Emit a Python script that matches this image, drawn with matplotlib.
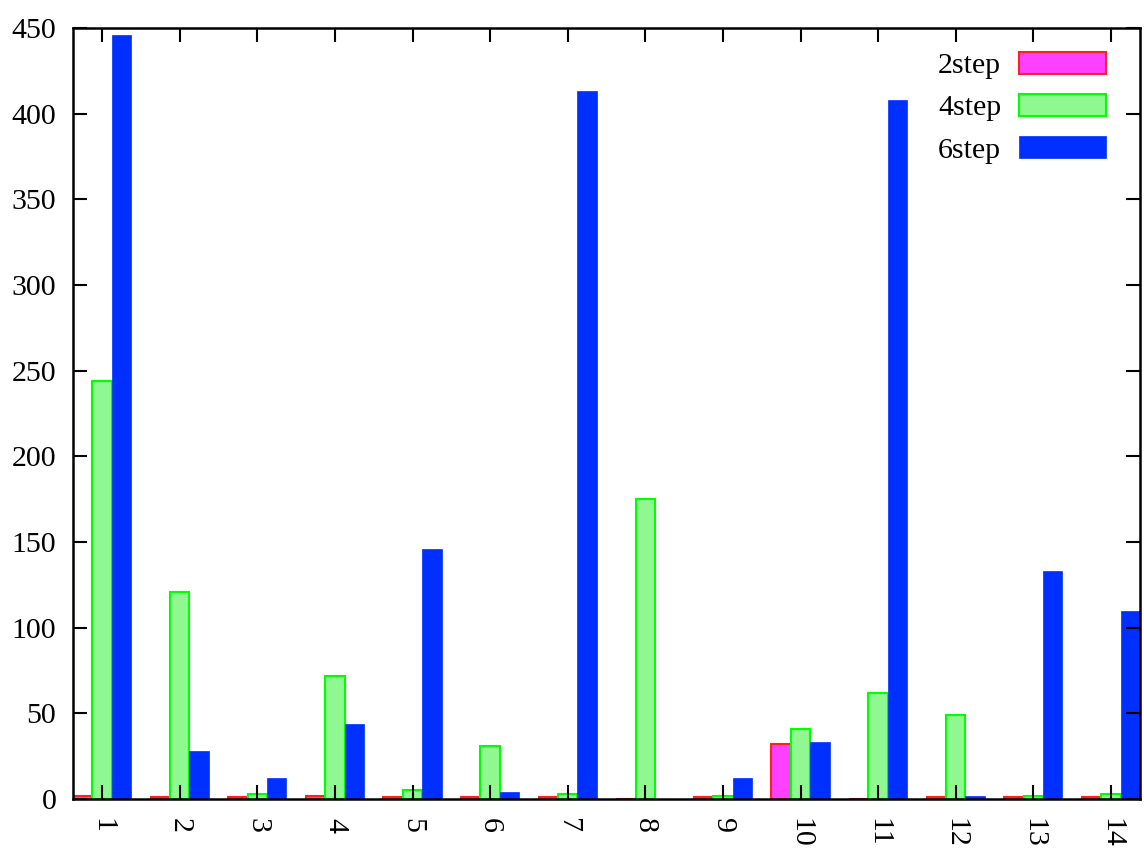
import numpy as np
import matplotlib.pyplot as plt

plt.rcParams["font.family"] = ["Liberation Serif", "DejaVu Serif"]

categories = [str(i) for i in range(1, 15)]
step2 = [2, 1, 1, 2, 1, 1, 1, 0, 1, 32, 0, 1, 1, 1]
step4 = [244, 121, 3, 72, 5, 31, 3, 175, 2, 41, 62, 49, 2, 3]
step6 = [446, 28, 12, 44, 146, 4, 413, 0, 12, 33, 408, 2, 133, 110]

x = np.arange(1, len(categories) + 1)
w = 0.25

fig = plt.figure(figsize=(11.44, 8.5), dpi=100)
ax = fig.add_axes([73 / 1144, 1 - 799 / 850, (1140 - 73) / 1144, (799 - 28) / 850])

ax.bar(x - w, step2, w, color="#ff40ff", edgecolor="#ff2020", linewidth=1.5, label="2step")
ax.bar(x, step4, w, color="#90f890", edgecolor="#00ff00", linewidth=1.5, label="4step")
ax.bar(x + w, step6, w, color="#0030ff", edgecolor="#0030ff", linewidth=0.5, label="6step")

ax.set_xlim(0.625, 14.375)
ax.set_ylim(0, 450)
ax.set_xticks(x)
ax.set_xticklabels(categories, rotation=-90, fontsize=21.5)
ax.set_yticks(np.arange(0, 451, 50))
ax.tick_params(axis="y", labelsize=21.5, pad=12)
ax.tick_params(axis="x", pad=14)
ax.tick_params(direction="in", length=10, width=1.5, top=True, right=True)
for s in ax.spines.values():
    s.set_linewidth(1.8)

ax.legend(loc="upper right", frameon=False, markerfirst=False, fontsize=21.5,
          handlelength=2.9, handleheight=0.75, labelspacing=0.5,
          bbox_to_anchor=(0.993, 1.004), handletextpad=0.6)

fig.savefig("out.png", dpi=100)
